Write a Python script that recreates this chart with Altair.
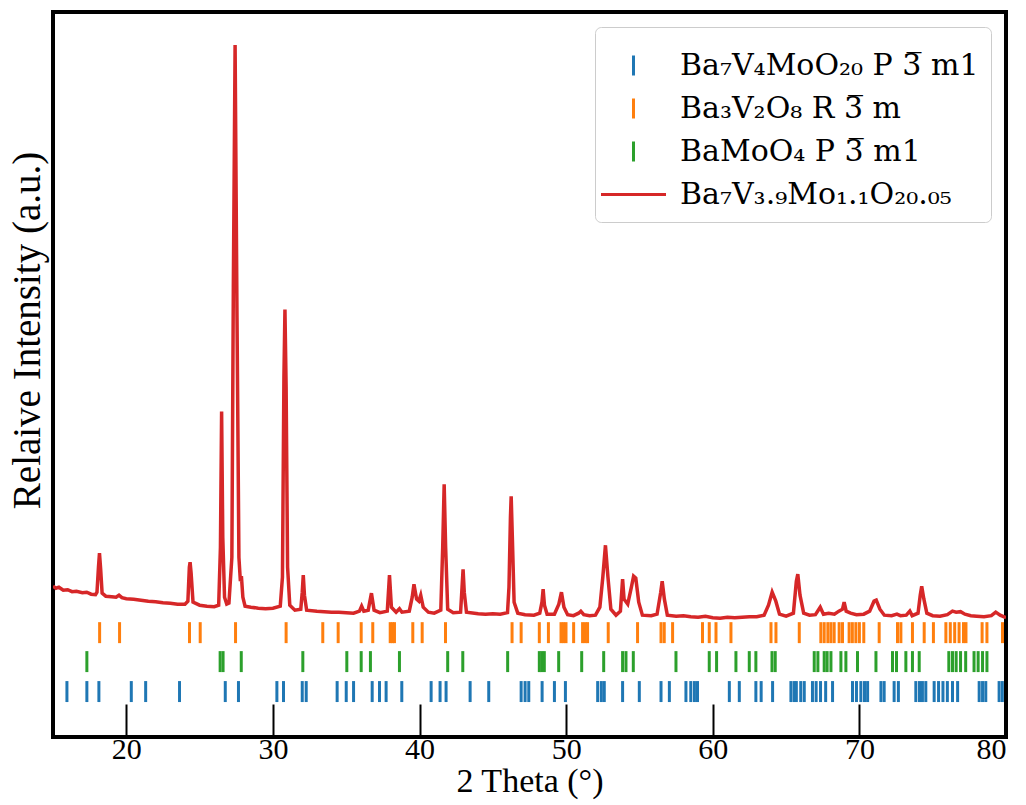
import altair as alt
import pandas as pd

# ---------------- data ----------------
theta = [15.0, 15.2, 15.4, 15.7, 16.0, 16.3, 16.6, 17.0, 17.3, 17.6, 17.9, 18.0, 18.1, 18.17, 18.25, 18.35,
         18.6, 19.0, 19.3, 19.5, 19.7, 20.0, 20.5, 21.0, 21.5, 22.0, 22.5, 23.0, 23.5, 24.0, 24.2, 24.3,
         24.35, 24.42, 24.55, 25.0, 25.5, 26.0, 26.3, 26.42, 26.5, 26.58, 26.7, 26.85, 27.0, 27.2, 27.3,
         27.42, 27.55, 27.68, 27.78, 27.85, 27.95, 28.1, 28.5, 29.0, 29.5, 30.0, 30.5, 30.65, 30.75, 30.82,
         30.9, 31.0, 31.15, 31.5, 31.9, 32.0, 32.07, 32.15, 32.3, 33.0, 33.5, 34.0, 34.5, 35.0, 35.5, 35.9,
         36.05, 36.2, 36.5, 36.72, 36.9, 37.3, 37.8, 37.95, 38.08, 38.4, 38.63, 38.8, 39.3, 39.5, 39.62,
         39.8, 39.95, 40.08, 40.25, 40.6, 41.0, 41.45, 41.58, 41.68, 41.78, 41.92, 42.3, 42.8, 42.9, 42.97,
         43.05, 43.2, 44.0, 44.5, 45.0, 45.5, 46.0, 46.1, 46.2, 46.25, 46.33, 46.45, 46.7, 47.2, 47.8, 48.2,
         48.35, 48.43, 48.52, 48.7, 49.2, 49.5, 49.68, 49.85, 50.1, 50.5, 50.85, 51.0, 51.2, 51.6, 52.0,
         52.3, 52.5, 52.68, 52.85, 53.05, 53.4, 53.7, 53.85, 53.95, 54.2, 54.45, 54.6, 54.75, 54.95, 55.2,
         55.8, 56.2, 56.45, 56.55, 56.7, 56.9, 57.5, 58.0, 58.5, 59.0, 59.5, 60.0, 60.5, 61.0, 61.5, 62.0,
         62.5, 63.0, 63.5, 63.8, 64.05, 64.3, 64.55, 65.0, 65.5, 65.7, 65.8, 65.95, 66.2, 66.6, 67.0, 67.33,
         67.55, 67.9, 68.3, 68.6, 68.85, 68.96, 69.1, 69.4, 69.8, 70.3, 70.7, 71.0, 71.15, 71.4, 71.7, 72.2,
         72.56, 72.8, 73.2, 73.44, 73.6, 74.0, 74.15, 74.25, 74.4, 74.6, 75.0, 75.5, 76.0, 76.35, 76.6,
         76.9, 77.2, 77.6, 78.0, 78.5, 79.0, 79.3, 79.6, 80.0]
intensity = [1510, 1490, 1500, 1470, 1475, 1455, 1460, 1445, 1450, 1430, 1425, 1450, 1700, 1840, 1680, 1440,
             1410, 1405, 1400, 1420, 1395, 1385, 1380, 1370, 1360, 1355, 1345, 1340, 1330, 1330, 1360, 1700,
             1750, 1640, 1350, 1320, 1310, 1305, 1320, 1900, 3260, 2000, 1400, 1330, 1340, 1800, 4500,
             6930, 4200, 1800, 1560, 1610, 1400, 1310, 1300, 1290, 1285, 1290, 1310, 1600, 3600, 4280,
             3500, 1700, 1320, 1270, 1280, 1450, 1620, 1420, 1270, 1260, 1255, 1250, 1250, 1245, 1240, 1260,
             1310, 1260, 1270, 1440, 1270, 1245, 1260, 1620, 1300, 1250, 1285, 1250, 1260, 1400, 1530,
             1380, 1360, 1420, 1300, 1250, 1240, 1270, 1900, 2530, 1900, 1280, 1245, 1250, 1500, 1680,
             1450, 1250, 1235, 1230, 1235, 1230, 1245, 1500, 2200, 2410, 2000, 1350, 1240, 1225, 1220, 1240,
             1350, 1480, 1320, 1230, 1230, 1330, 1450, 1300, 1225, 1215, 1240, 1260, 1225, 1215, 1220,
             1300, 1600, 1920, 1600, 1280, 1220, 1260, 1580, 1380, 1330, 1500, 1610, 1590, 1350, 1220,
             1215, 1230, 1450, 1560, 1380, 1220, 1210, 1215, 1205, 1200, 1210, 1195, 1190, 1200, 1195, 1200,
             1205, 1205, 1220, 1320, 1450, 1360, 1230, 1210, 1240, 1560, 1630, 1420, 1240, 1220, 1225, 1300,
             1230, 1240, 1230, 1260, 1280, 1350, 1260, 1240, 1225, 1230, 1260, 1360, 1370, 1280, 1220, 1215,
             1230, 1215, 1220, 1260, 1215, 1240, 1420, 1510, 1380, 1240, 1215, 1210, 1225, 1260, 1250,
             1255, 1230, 1215, 1210, 1205, 1215, 1250, 1220, 1195]

blue_ticks = [15.95, 17.31, 18.13, 20.34, 21.32, 23.63, 26.75, 27.65, 30.27, 30.72, 32.0, 32.27, 34.38, 35.0,
              35.5, 36.77, 37.27, 37.72, 38.79, 40.79, 41.4, 41.81, 43.45, 44.72, 46.93, 47.2, 47.45, 48.36,
              49.2, 49.95, 52.15, 52.4, 52.6, 53.85, 54.99, 56.47, 57.04, 58.17, 58.5, 58.75, 58.96, 61.13,
              61.81, 62.94, 63.3, 64.08, 65.33, 65.55, 65.7, 66.0, 66.24, 66.8, 67.05, 67.35, 67.7, 68.17,
              69.53, 69.8, 70.1, 70.35, 70.56, 71.47, 71.69, 72.37, 72.66, 73.85, 74.1, 74.3, 74.53, 75.1,
              75.4, 75.7, 76.0, 76.35, 76.7, 78.17, 78.4, 78.62, 79.53, 79.75]
orange_ticks = [18.18, 19.54, 24.31, 25.04, 27.45, 30.9, 33.4, 34.45, 36.02, 36.81, 38.0, 38.15, 38.29, 39.54,
                40.18, 41.77, 46.31, 46.93, 48.17, 48.79, 49.65, 49.82, 49.99, 50.51, 51.12, 51.3, 51.46,
                52.87, 54.87, 56.47, 56.69, 57.26, 59.3, 59.76, 60.22, 61.24, 63.97, 64.31, 65.9, 67.37, 67.6,
                67.85, 68.06, 68.28, 68.62, 68.85, 69.3, 69.52, 69.76, 70.0, 70.3, 71.35, 72.6, 72.83, 73.62,
                74.42, 75.05, 75.9, 76.2, 76.5, 76.8, 77.1, 77.27, 78.37, 78.7, 79.76]
green_ticks = [17.31, 26.4, 26.6, 27.84, 32.04, 35.04, 36.02, 36.65, 38.63, 41.92, 42.95, 46.01, 48.17, 48.34,
               48.51, 49.49, 51.06, 52.56, 53.85, 54.08, 54.58, 57.49, 59.76, 60.26, 61.58, 62.49, 62.94,
               64.04, 64.26, 66.92, 67.17, 67.6, 67.8, 68.06, 68.74, 69.08, 69.87, 71.13, 72.26, 72.53,
               73.17, 73.62, 74.08, 76.1, 76.35, 76.6, 76.9, 77.25, 77.82, 78.1, 78.4, 78.7]

series_names = ["Ba₇V₄MoO₂₀ P 3\u0305 m1", "Ba₃V₂O₈ R 3\u0305 m", "BaMoO₄ P 3\u0305 m1",
                "Ba₇V₃.₉Mo₁.₁O₂₀.₀₅"]
series_colors = ["#1f77b4", "#ff7f0e", "#2ca02c", "#d62728"]
row_top = [560, 1150, 860]      # upper end of each reference-tick row (a.u.)
row_bottom = [350, 940, 650]    # lower end of each reference-tick row (a.u.)
x_ticks = [20, 30, 40, 50, 60, 70, 80]

# ---------------- tables ----------------
line_df = pd.DataFrame({"theta": theta, "intensity": intensity, "series": series_names[3]})
rows = []
for i, lst in enumerate([blue_ticks, orange_ticks, green_ticks]):
    for t in lst:
        rows.append({"theta": t, "top": row_top[i], "bottom": row_bottom[i], "series": series_names[i]})
tick_df = pd.DataFrame(rows)
legend_df = pd.DataFrame({"theta": [10.0] * 4, "intensity": [0] * 4, "series": series_names})

FONT = "Liberation Serif"
LEGEND_FONT = "DejaVu Serif"
V_PATH = "M0,-0.4L0,0.4"
H_PATH = "M-1.3,0L1.3,0"

xscale = alt.Scale(domain=[15, 80], nice=False, zero=False)
yscale = alt.Scale(domain=[0, 7260], nice=False, zero=False)
color_scale = alt.Scale(domain=series_names, range=series_colors)
shape_scale = alt.Scale(domain=series_names, range=[V_PATH, V_PATH, V_PATH, H_PATH])

legend = alt.Legend(
    title=None, orient="top-right", offset=15, labelFont=LEGEND_FONT, labelFontSize=30,
    labelColor="black", labelLimit=500, symbolSize=2500, symbolStrokeWidth=3, labelOffset=20,
    fillColor="white", strokeColor="#cccccc", cornerRadius=6, padding=12,
    rowPadding=-5, symbolOpacity=1,
)

x_axis = alt.Axis(
    title="2 Theta (°)", values=x_ticks, format="d", grid=False, domain=False,
    offset=-33, tickSize=33, tickWidth=2, tickColor="black", labelPadding=-3,
    labelFont=FONT, labelFontSize=30, labelColor="black", titleFont=FONT,
    titleFontSize=34, titleFontWeight="normal", titleColor="black", titlePadding=0,
)
y_axis = alt.Axis(
    title="Relaive Intensity (a.u.)", labels=False, ticks=False, domain=False, grid=False,
    titleFont=FONT, titleFontSize=39, titleFontWeight="normal", titleColor="black", titlePadding=6,
    titleY=318,
)

ticks = alt.Chart(tick_df).mark_rule(strokeWidth=3).encode(
    x=alt.X("theta:Q", scale=xscale, axis=x_axis),
    y=alt.Y("top:Q", scale=yscale, axis=y_axis),
    y2="bottom:Q",
    color=alt.Color("series:N", scale=color_scale, legend=legend),
)

line = alt.Chart(line_df).mark_line(strokeWidth=3.5, clip=True).encode(
    x=alt.X("theta:Q", scale=xscale),
    y=alt.Y("intensity:Q", scale=yscale),
    color=alt.Color("series:N", scale=color_scale, legend=legend),
)

legend_pts = alt.Chart(legend_df).mark_point(clip=True, filled=False).encode(
    x=alt.X("theta:Q", scale=xscale),
    y=alt.Y("intensity:Q", scale=yscale),
    color=alt.Color("series:N", scale=color_scale, legend=legend),
    shape=alt.Shape("series:N", scale=shape_scale, legend=legend),
)

chart = alt.layer(ticks, line, legend_pts).properties(
    width=953, height=725, background="white",
    padding={"left": 53, "top": 12, "right": 20, "bottom": 68},
    autosize=alt.AutoSizeParams(type="none"),
).configure_view(
    stroke="black", strokeWidth=4
)

chart.save("out.html", embed_options={"renderer": "svg", "actions": False})
